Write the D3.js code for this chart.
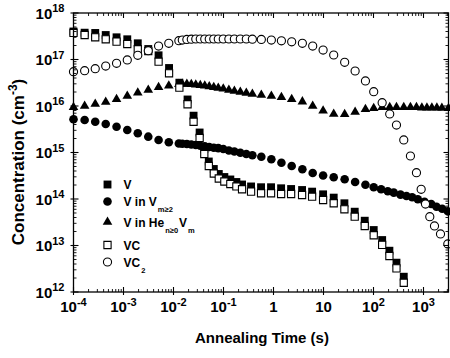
<!DOCTYPE html>
<html><head><meta charset="utf-8">
<script src="https://cdn.jsdelivr.net/npm/d3@7/dist/d3.min.js"></script>
<style>body{margin:0;background:#fff}svg{display:block}text{font-family:"Liberation Sans",Arial,Helvetica,sans-serif;font-weight:bold;fill:#000}</style>
</head><body><svg id="c" width="450" height="358"></svg>
<script>
// ---- data ----
const tV = [1.0e-4,1.67e-4,2.72e-4,4.41e-4,7.26e-4,1.19e-3,1.93e-3,3.13e-3,5.03e-3,8.15e-3,1.31e-2,1.91e-2,2.52e-2,3.33e-2,4.13e-2,5.08e-2,6.40e-2,8.05e-2,0.104,0.137,0.181,0.235,0.356,0.564,0.893,1.42,2.25,3.73,5.92,9.82,16.0,26.2,42.1,66.8,101,149,208,288,403];
const vV = [4.00e17,3.77e17,3.72e17,3.36e17,3.00e17,2.72e17,2.23e17,1.68e17,1.23e17,6.56e16,3.17e16,1.38e16,6.19e15,2.69e15,1.19e15,6.40e14,4.42e14,3.45e14,2.97e14,2.63e14,2.32e14,2.05e14,1.86e14,1.79e14,1.79e14,1.70e14,1.64e14,1.56e14,1.44e14,1.26e14,1.07e14,8.09e13,5.33e13,3.41e13,2.15e13,1.31e13,7.72e12,4.27e12,2.13e12];
const vVC = [3.72e17,3.36e17,3.00e17,2.72e17,2.42e17,2.15e17,1.66e17,1.52e17,8.97e16,5.05e16,2.48e16,1.09e16,4.59e15,2.05e15,9.29e14,5.13e14,3.53e14,2.76e14,2.38e14,2.10e14,1.86e14,1.62e14,1.44e14,1.33e14,1.33e14,1.28e14,1.28e14,1.22e14,1.12e14,9.51e13,8.09e13,6.00e13,4.16e13,2.63e13,1.66e13,1.03e13,5.94e12,3.23e12,1.58e12];

const tVC2 = [1.0e-4,1.67e-4,2.72e-4,4.41e-4,7.26e-4,1.19e-3,1.93e-3,3.13e-3,5.03e-3,8.05e-3,1.28e-2,1.50e-2,1.85e-2,2.27e-2,2.79e-2,3.43e-2,4.22e-2,5.19e-2,6.39e-2,7.86e-2,9.9e-2,0.128,0.165,0.217,0.286,0.378,0.571,0.906,1.44,2.31,3.78,6.08,9.82,16.0,26.5,42.9,69.0,101,149,211,288,403,548,723,898,1096,1336,1659,2188,3062];
const vVC2 = [5.47e16,5.74e16,6.34e16,7.24e16,8.28e16,9.76e16,1.23e17,1.55e17,1.95e17,2.23e17,2.54e17,2.62e17,2.70e17,2.74e17,2.76e17,2.76e17,2.76e17,2.76e17,2.76e17,2.76e17,2.76e17,2.76e17,2.76e17,2.76e17,2.76e17,2.74e17,2.70e17,2.62e17,2.52e17,2.40e17,2.23e17,1.95e17,1.60e17,1.25e17,8.71e16,5.66e16,3.45e16,2.03e16,1.18e16,6.73e15,3.90e15,1.86e15,8.41e14,3.68e14,1.62e14,7.80e13,4.16e13,2.63e13,1.77e13,1.08e13];

const tVm = [1.0e-4,1.67e-4,2.72e-4,4.41e-4,7.26e-4,1.19e-3,1.93e-3,3.13e-3,5.03e-3,8.05e-3,1.28e-2,1.50e-2,1.85e-2,2.27e-2,2.79e-2,3.43e-2,4.22e-2,5.19e-2,6.39e-2,7.86e-2,9.9e-2,0.128,0.165,0.217,0.286,0.378,0.571,0.906,1.44,2.31,3.78,6.08,9.82,16.0,26.5,42.9,69.0,101,142,193,254,346,456,593,769,1047,1426,1820,2366,3062];
const vVm = [5.18e15,5.00e15,4.59e15,4.10e15,3.59e15,3.05e15,2.59e15,2.19e15,1.86e15,1.66e15,1.56e15,1.54e15,1.52e15,1.49e15,1.45e15,1.40e15,1.36e15,1.31e15,1.27e15,1.24e15,1.19e15,1.10e15,1.05e15,9.91e14,9.29e14,8.71e14,8.13e14,7.14e14,6.04e14,5.13e14,4.35e14,3.62e14,3.20e14,2.93e14,2.65e14,2.32e14,2.03e14,1.79e14,1.62e14,1.47e14,1.37e14,1.24e14,1.16e14,1.09e14,9.86e13,8.75e13,7.80e13,6.83e13,6.18e13,5.43e13];

const tHe = [1.0e-4,1.67e-4,2.72e-4,4.41e-4,7.26e-4,1.19e-3,1.93e-3,3.13e-3,5.03e-3,8.05e-3,1.28e-2,1.50e-2,1.85e-2,2.27e-2,2.79e-2,3.43e-2,4.22e-2,5.19e-2,6.39e-2,7.86e-2,9.9e-2,0.128,0.165,0.217,0.286,0.378,0.571,0.906,1.44,2.31,3.78,6.08,9.82,16.0,26.5,42.9,69.0,101,149,211,288,403,548,723,927,1170,1470,1850,2330,3160];
const vHe = [9.38e15,1.00e16,1.10e16,1.22e16,1.39e16,1.64e16,1.93e16,2.21e16,2.52e16,2.73e16,2.93e16,2.97e16,2.97e16,2.94e16,2.86e16,2.79e16,2.72e16,2.62e16,2.52e16,2.44e16,2.34e16,2.21e16,2.10e16,2.00e16,1.91e16,1.81e16,1.73e16,1.64e16,1.54e16,1.39e16,1.24e16,1.00e16,7.93e15,6.73e15,6.63e15,7.43e15,8.49e15,8.93e15,9.38e15,9.38e15,9.38e15,9.38e15,9.38e15,9.38e15,9.19e15,9.19e15,9.19e15,9.19e15,9.06e15,8.93e15];

const xMajor = [1e-4,1e-3,1e-2,1e-1,1,10,100,1000];
const xTickBase = ["10","10","10","10","1","10","10","10"];
const xTickExp = ["-4","-3","-2","-1","","","2","3"];
const yMajor = [1e12,1e13,1e14,1e15,1e16,1e17,1e18];
const yTickBase = ["10","10","10","10","10","10","10"];
const yTickExp = ["12","13","14","15","16","17","18"];

const legendLabels = [
  [["V",""]],
  [["V in V",""],["m≥2","sub"]],
  [["V in He",""],["n≥0","sub"],["V",""],["m","sub"]],
  [["VC",""]],
  [["VC",""],["2","sub"]]
];

// ---- chart ----
const svg = d3.select("#c");
const L = 73.5, R = 448.5, T = 13, B = 292;
const x = d3.scaleLog().domain([1e-4, Math.pow(10,3.5)]).range([L, R]);
const y = d3.scaleLog().domain([1e12, 1e18]).range([B, T]);

const sq = d3.symbol().type(d3.symbolSquare).size(62);
const sqOpen = d3.symbol().type(d3.symbolSquare).size(52);
const ci = d3.symbol().type(d3.symbolCircle).size(58);
const ciOpen = d3.symbol().type(d3.symbolCircle).size(52);
const tri = d3.symbol().type(d3.symbolTriangle).size(40);

const series = [
  {t:tV, v:vV, sym:sq, fill:"#000", stroke:"none"},
  {t:tVm, v:vVm, sym:ci, fill:"#000", stroke:"none"},
  {t:tHe, v:vHe, sym:tri, fill:"#000", stroke:"none"},
  {t:tV, v:vVC, sym:sqOpen, fill:"#fff", stroke:"#000"},
  {t:tVC2, v:vVC2, sym:ciOpen, fill:"#fff", stroke:"#000"}
];
series.forEach(s => {
  svg.append("g").selectAll("path").data(s.t.map((t,i)=>[t,s.v[i]])).join("path")
    .attr("d", s.sym)
    .attr("transform", d => `translate(${x(d[0])},${y(d[1])})`)
    .attr("fill", s.fill).attr("stroke", s.stroke).attr("stroke-width", 1.1);
});

// axes frame
const ax = svg.append("g").attr("stroke","#000").attr("fill","none");
ax.append("rect").attr("x",L).attr("y",T).attr("width",R-L).attr("height",B-T).attr("stroke-width",1.3);
const xMinor = x.ticks().filter(v => !xMajor.some(m => Math.abs(m-v)/m < 1e-6));
const yMinor = y.ticks().filter(v => !yMajor.some(m => Math.abs(m-v)/m < 1e-6));
xMajor.forEach(v => {
  const px = x(v);
  ax.append("line").attr("x1",px).attr("x2",px).attr("y1",B+3).attr("y2",B-5).attr("stroke-width",1.1);
  ax.append("line").attr("x1",px).attr("x2",px).attr("y1",T).attr("y2",T+5).attr("stroke-width",1.1);
});
xMinor.forEach(v => {
  const px = x(v);
  ax.append("line").attr("x1",px).attr("x2",px).attr("y1",B).attr("y2",B-3).attr("stroke-width",0.9);
  ax.append("line").attr("x1",px).attr("x2",px).attr("y1",T).attr("y2",T+3).attr("stroke-width",0.9);
});
yMajor.forEach(v => {
  const py = y(v);
  ax.append("line").attr("x1",L-3).attr("x2",L+5).attr("y1",py).attr("y2",py).attr("stroke-width",1.1);
  ax.append("line").attr("x1",R-5).attr("x2",R).attr("y1",py).attr("y2",py).attr("stroke-width",1.1);
});
yMinor.forEach(v => {
  const py = y(v);
  ax.append("line").attr("x1",L).attr("x2",L+3).attr("y1",py).attr("y2",py).attr("stroke-width",0.9);
  ax.append("line").attr("x1",R-3).attr("x2",R).attr("y1",py).attr("y2",py).attr("stroke-width",0.9);
});

// tick labels
xMajor.forEach((v,i) => {
  const t = svg.append("text").attr("x", x(v)).attr("y", B+19.5).attr("text-anchor","middle").attr("font-size",15);
  t.append("tspan").text(xTickBase[i]);
  if (xTickExp[i]) t.append("tspan").attr("dy",-6).attr("font-size",11).text(xTickExp[i]);
});
yMajor.forEach((v,i) => {
  const t = svg.append("text").attr("x", 64.5).attr("y", y(v)+5.5).attr("text-anchor","end").attr("font-size",15);
  t.append("tspan").text(yTickBase[i]);
  t.append("tspan").attr("dy",-6.5).attr("font-size",11).text(yTickExp[i]);
});

// axis titles
svg.append("text").attr("x", (L+R)/2 + 1).attr("y", 343).attr("text-anchor","middle").attr("font-size",15).text("Annealing Time (s)");
const yt = svg.append("text").attr("transform","translate(24,162) rotate(-90)").attr("text-anchor","middle").attr("font-size",17);
yt.append("tspan").text("Concentration (cm");
yt.append("tspan").attr("dy",-7).attr("font-size",12).text("-3");
yt.append("tspan").attr("dy",7).text(")");

// legend
const legY = [184.5, 201.5, 222, 245, 262];
const legSyms = [sq, ci, tri, sqOpen, ciOpen];
legendLabels.forEach((parts,i) => {
  const s = series[i];
  svg.append("path").attr("d", legSyms[i]).attr("transform",`translate(107.5,${legY[i]})`)
    .attr("fill", s.fill).attr("stroke", s.stroke).attr("stroke-width",1.1);
  const t = svg.append("text").attr("x",123.5).attr("y",legY[i]+4.5).attr("font-size",12);
  let sub = false;
  parts.forEach(p => {
    const ts = t.append("tspan").text(p[0]);
    if (p[1]==="sub" && !sub) { ts.attr("dy",6).attr("font-size",7.5).attr("dx",1); sub = true; }
    else if (p[1]!=="sub" && sub) { ts.attr("dy",-6).attr("dx",1); sub = false; }
  });
});
</script></body></html>
